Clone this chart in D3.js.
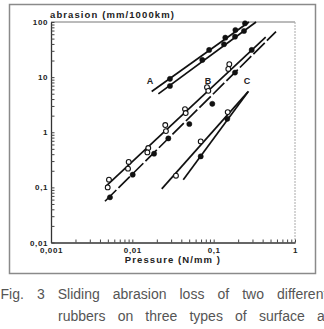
<!DOCTYPE html>
<html>
<head>
<meta charset="utf-8">
<script src="https://cdn.jsdelivr.net/npm/d3@7"></script>
<style>
body { margin: 0; background: #fff; }
svg { display: block; }
</style>
</head>
<body>
<script>
// surface A : two rubbers, both filled markers
var pointsA1 = [[0.029, 9.3], [0.088, 31.1], [0.139, 52], [0.185, 71.6], [0.243, 94.7]];
var pointsA2 = [[0.029, 6.9], [0.0725, 20.5], [0.134, 39.5], [0.183, 54.2], [0.236, 68.7]];
// surface B : open circles and filled circles
var pointsB1 = [[0.00516, 0.138], [0.00498, 0.100], [0.00902, 0.289], [0.00885, 0.2185],
                [0.0157, 0.518], [0.0153, 0.431], [0.0254, 1.35], [0.0259, 1.05],
                [0.0444, 2.63], [0.0453, 2.23], [0.0828, 6.58], [0.0859, 5.64],
                [0.1557, 17.2], [0.1514, 14.1]];
var pointsB2 = [[0.00531, 0.066], [0.0101, 0.170], [0.0185, 0.408], [0.0277, 0.772],
                [0.0502, 1.41], [0.0962, 3.28], [0.183, 12.1], [0.2935, 31.1]];
// surface C
var pointsC1 = [[0.0344, 0.163], [0.0693, 0.682], [0.1488, 2.32]];
var pointsC2 = [[0.0693, 0.365], [0.147, 1.755]];

// fitted lines (end points)
var lineA1 = [[0.0173, 5.48], [0.272, 100]];
var lineA2 = [[0.0209, 4.98], [0.332, 100]];
var lineB1 = [[0.00468, 0.103], [0.436, 52.9]];
var lineB2 = [[0.00461, 0.056], [0.584, 66.7]];
var lineC1 = [[0.023, 0.094], [0.264, 5.41]];
var lineC2 = [[0.0423, 0.138], [0.268, 5.52]];

var surfaceLabels = ["A", "B", "C"];
var surfaceLabelPos = [[0.0165, 8.6], [0.0852, 8.6], [0.257, 8.6]];

var xMajor = [0.001, 0.01, 0.1, 1];
var xMajorLabels = ["0,001", "0,01", "0,1", "1"];
var yMajor = [0.01, 0.1, 1, 10, 100];
var yMajorLabels = ["0,01", "0,1", "1", "10", "100"];

var yTitle = "abrasion (mm/1000km)";
var xTitle = "Pressure (N/mm )";
var captionLine1 = "Fig. 3 Sliding abrasion loss of two different".split(" ");
var captionLine2 = "rubbers on three types of surface as".split(" ");

var WIDTH = 324, HEIGHT = 329;
var LEFT = 51, RIGHT = 295, TOP = 22, BOTTOM = 242.5;

var svg = d3.select("body").append("svg")
    .attr("width", WIDTH)
    .attr("height", HEIGHT);

svg.append("rect").attr("width", WIDTH).attr("height", HEIGHT).attr("fill", "#fff");

// outer frame
svg.append("rect")
    .attr("x", 9.5).attr("y", 4.5)
    .attr("width", 306).attr("height", 269)
    .attr("fill", "none").attr("stroke", "#8a8a8a").attr("stroke-width", 1.5);

var x = d3.scaleLog().domain([0.001, 1]).range([LEFT, RIGHT]);
var y = d3.scaleLog().domain([0.01, 100]).range([BOTTOM, TOP]);

var minorTicks = function (lo, hi) {
    var out = [];
    for (var e = lo; e < hi; e++) {
        for (var m = 1; m < 10; m++) out.push(m * Math.pow(10, e));
    }
    out.push(Math.pow(10, hi));
    return out;
};

var fmt = function (values, labels) {
    return function (d) {
        for (var i = 0; i < values.length; i++) {
            if (Math.abs(d / values[i] - 1) < 1e-6) return labels[i];
        }
        return "";
    };
};

// plot border (top and right)
svg.append("line").attr("x1", LEFT).attr("x2", RIGHT).attr("y1", TOP).attr("y2", TOP)
    .attr("stroke", "#777").attr("stroke-width", 1);
svg.append("line").attr("x1", RIGHT).attr("x2", RIGHT).attr("y1", TOP).attr("y2", BOTTOM)
    .attr("stroke", "#aaa").attr("stroke-width", 1).attr("stroke-dasharray", "2,1");

var xAxis = d3.axisBottom(x)
    .tickValues(minorTicks(-3, 0))
    .tickFormat(fmt(xMajor, xMajorLabels))
    .tickSizeInner(-3)
    .tickSizeOuter(0)
    .tickPadding(5);

var yAxis = d3.axisLeft(y)
    .tickValues(minorTicks(-2, 2))
    .tickFormat(fmt(yMajor, yMajorLabels))
    .tickSizeInner(-3.5)
    .tickSizeOuter(0)
    .tickPadding(3);

var gx = svg.append("g").attr("transform", "translate(0," + BOTTOM + ")").call(xAxis);
var gy = svg.append("g").attr("transform", "translate(" + LEFT + ",0)").call(yAxis);

[gx, gy].forEach(function (g) {
    g.select(".domain").attr("stroke", "#333").attr("stroke-width", 1.3);
    g.selectAll(".tick line").attr("stroke", "#444").attr("stroke-width", 1);
    g.selectAll(".tick text")
        .attr("fill", "#222")
        .style("font-family", "Liberation Sans, Arial, sans-serif")
        .style("font-weight", "bold")
        .style("font-size", "8px")
        .style("letter-spacing", "0.6px");
});

// axis titles
svg.append("text")
    .attr("x", 50).attr("y", 17.5)
    .attr("fill", "#222")
    .style("font-family", "Liberation Sans, Arial, sans-serif")
    .style("font-weight", "bold").style("font-size", "9.5px").style("letter-spacing", "1.1px")
    .text(yTitle);

svg.append("text")
    .attr("x", 173).attr("y", 263)
    .attr("text-anchor", "middle")
    .attr("fill", "#222")
    .style("font-family", "Liberation Sans, Arial, sans-serif")
    .style("font-weight", "bold").style("font-size", "9.5px").style("letter-spacing", "1.1px")
    .text(xTitle);

// lines
var line = d3.line()
    .x(function (d) { return x(d[0]); })
    .y(function (d) { return y(d[1]); });

var plot = svg.append("g");

[lineA1, lineA2, lineB1, lineB2, lineC1, lineC2].forEach(function (l, i) {
    plot.append("path")
        .attr("d", line(l))
        .attr("fill", "none")
        .attr("stroke", "#111")
        .attr("stroke-width", 1.7)
        .attr("stroke-dasharray", i === 3 ? "16,3" : null);
});

// markers
var drawPoints = function (pts, open) {
    plot.append("g").selectAll("circle")
        .data(pts)
        .enter()
        .append("circle")
        .attr("cx", function (d) { return x(d[0]); })
        .attr("cy", function (d) { return y(d[1]); })
        .attr("r", open ? 2.4 : 2.6)
        .attr("fill", open ? "#fff" : "#111")
        .attr("stroke", "#111")
        .attr("stroke-width", open ? 1.1 : 0.5);
};
drawPoints(pointsA1, false);
drawPoints(pointsA2, false);
drawPoints(pointsB1, true);
drawPoints(pointsB2, false);
drawPoints(pointsC1, true);
drawPoints(pointsC2, false);

// surface labels
plot.selectAll("text.lab")
    .data(surfaceLabels)
    .enter()
    .append("text")
    .attr("class", "lab")
    .attr("x", function (d, i) { return x(surfaceLabelPos[i][0]); })
    .attr("y", function (d, i) { return y(surfaceLabelPos[i][1]); })
    .attr("dy", "0.35em")
    .attr("text-anchor", "middle")
    .attr("fill", "#222")
    .style("font-family", "Liberation Sans, Arial, sans-serif")
    .style("font-weight", "bold").style("font-size", "9px")
    .text(function (d) { return d; });

// caption, words spread like justified text
var captionStyle = function (sel) {
    return sel.attr("fill", "#555")
        .style("font-family", "Liberation Sans, Arial, sans-serif")
        .style("font-size", "14px");
};

var justify = function (words, xStart, xLastWord, yBase) {
    var widths = words.map(function (w) {
        var t = captionStyle(svg.append("text")).text(w);
        var len = t.node().getComputedTextLength();
        t.remove();
        return len;
    });
    var used = d3.sum(widths.slice(0, -1));
    var gap = (xLastWord - xStart - used) / (words.length - 1);
    var pos = xStart;
    words.forEach(function (w, i) {
        captionStyle(svg.append("text"))
            .attr("x", pos).attr("y", yBase)
            .text(w);
        pos += widths[i] + gap;
    });
};

justify(captionLine1, 0.5, 277, 298.5);
justify(captionLine2, 58, 317, 320.5);
</script>
</body>
</html>
